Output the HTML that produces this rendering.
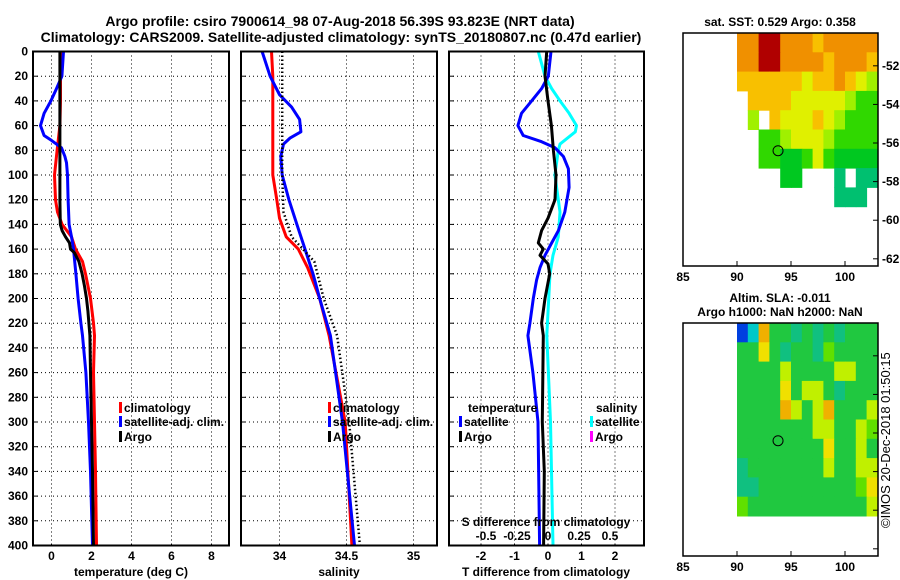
<!DOCTYPE html>
<html><head><meta charset="utf-8"><style>
html,body{margin:0;padding:0;background:#fff;}
svg{display:block;font-family:"Liberation Sans",Arial,sans-serif;font-weight:bold;}
</style></head><body>
<svg id="fig" width="900" height="580" viewBox="0 0 900 580" xmlns="http://www.w3.org/2000/svg">
<text x="340" y="26" font-size="14" text-anchor="middle">Argo profile: csiro 7900614_98 07-Aug-2018 56.39S 93.823E (NRT data)</text>
<text x="341" y="42" font-size="14" text-anchor="middle">Climatology: CARS2009. Satellite-adjusted climatology: synTS_20180807.nc (0.47d earlier)</text>
<g id="p1"></g>
<g id="p2"></g>
<g id="p3"></g>
<g id="m1"></g>
<g id="m2"></g>
<text x="780" y="26" font-size="12" text-anchor="middle">sat. SST: 0.529 Argo: 0.358</text>
<text x="780" y="302" font-size="12" text-anchor="middle">Altim. SLA: -0.011</text>
<text x="780" y="316" font-size="12" text-anchor="middle">Argo h1000: NaN h2000: NaN</text>
<text x="0" y="0" font-size="13" font-weight="normal" transform="translate(890,528) rotate(-90)">©IMOS 20-Dec-2018 01:50:15</text>
</svg>
<script>
// ---- data ----
const depthTicks=[0,20,40,60,80,100,120,140,160,180,200,220,240,260,280,300,320,340,360,380,400];
const climTdep=[0,20,40,60,80,100,120,130,140,150,160,170,180,200,220,230,260,300,340,400];
const climT=[0.53,0.45,0.45,0.42,0.28,0.15,0.2,0.3,0.53,1.0,1.2,1.55,1.7,1.95,2.1,2.15,2.1,2.15,2.2,2.25];
const argoTdep=[0,40,80,120,140,145,150,155,160,163,170,180,190,200,210,220,230,260,300,340,400];
const argoT=[0.42,0.42,0.42,0.42,0.44,0.53,0.7,0.9,0.95,1.15,1.37,1.53,1.65,1.75,1.82,1.87,1.92,1.95,2.0,2.05,2.1];
const satTdep=[0,20,30,40,50,60,68,72,78,85,90,100,120,140,150,160,180,200,220,230,260,300,340,400];
const satT=[0.6,0.52,0.25,-0.03,-0.37,-0.55,-0.37,0,0.5,0.67,0.75,0.8,0.83,0.88,1.0,1.1,1.22,1.33,1.47,1.55,1.72,1.85,1.95,2.05];
const tTicks=[0,2,4,6,8];
const climSdep=[0,20,60,100,120,135,150,160,175,200,230,300,400];
const climS=[33.94,33.95,33.95,33.95,33.98,34.0,34.05,34.14,34.21,34.30,34.37,34.49,34.54];
const satSdep=[0,20,35,45,55,65,70,75,85,100,120,140,160,180,200,230,300,400];
const satS=[33.87,33.93,34.0,34.09,34.15,34.16,34.08,34.03,34.01,34.02,34.07,34.13,34.19,34.25,34.30,34.38,34.47,34.56];
const argoSdep=[0,60,100,130,150,170,200,230,300,400];
const argoS=[34.02,34.02,34.02,34.03,34.09,34.26,34.33,34.43,34.52,34.6];
const sTicks=[34,34.5,35];
const dTdep=[0,20,30,40,50,60,68,73,78,85,95,110,130,145,155,165,175,185,200,220,230,260,300,400];
const dTsat=[0.09,0.01,-0.19,-0.49,-0.79,-0.9,-0.74,-0.19,0.21,0.46,0.61,0.63,0.5,0.31,0.11,-0.09,-0.24,-0.34,-0.44,-0.54,-0.6,-0.45,-0.3,-0.25];
const dTargoDep=[0,20,40,60,80,100,120,135,145,155,160,165,172,180,200,220,230,300,340,400];
const dTargo=[-0.04,-0.09,0,0.1,0.16,0.24,0.21,0,-0.19,-0.29,-0.14,-0.24,0,0.05,-0.09,-0.19,-0.14,-0.17,-0.11,-0.13];
const dSdep=[0,20,30,40,50,60,65,75,80,100,130,150,165,180,230,300,400];
const dSsat=[-0.078,-0.024,0.03,0.097,0.17,0.23,0.22,0.097,0.083,0.056,0.097,0.083,0.04,0.016,-0.01,0.02,0.04];
const dTTicks=[-2,-1,0,1,2];
const dSTicks=[-0.5,-0.25,0,0.25,0.5];
const dSTickLabels=['-0.5','-0.25','0','0.25','0.5'];
const lonTicks=[85,90,95,100];
const latTicks=[-52,-54,-56,-58,-60,-62];
const sstGrid=[
[7,7,9,9,7,7,7,6,7,7,7,7,7],
[7,7,9,9,7,7,7,7,6,7,7,7,6],
[6,6,6,6,6,6,5,6,6,7,6,5,4],
[0,6,6,6,6,5,5,5,5,5,4,3,3],
[0,4,0,6,5,5,5,6,5,4,3,3,3],
[0,0,3,3,4,5,5,5,4,3,3,3,3],
[0,0,3,3,2,2,3,5,3,2,2,2,2],
[0,0,0,0,2,2,0,0,0,1,0,1,1],
[0,0,0,0,0,0,0,0,0,1,1,1,0]];
const slaGrid=[
[0,1,7,3,3,2,3,2,3,2,3,3,3],
[3,3,6,3,2,3,3,2,4,3,3,3,3],
[3,3,3,3,5,3,3,3,3,5,5,3,3],
[3,3,3,3,6,3,5,5,3,2,3,3,3],
[3,3,3,3,7,5,3,5,7,3,3,3,5],
[3,3,3,3,3,3,3,5,5,3,3,5,4],
[3,3,3,3,3,3,3,3,6,3,3,5,3],
[2,3,3,3,3,3,3,3,5,3,3,5,5],
[2,2,3,3,3,3,3,3,3,3,3,4,6],
[4,3,3,3,3,3,3,3,3,3,3,3,5]];
const floatLon=93.8, floatLat=-56.4;
// ---- drawing ----
const NS='http://www.w3.org/2000/svg';
function mk(tag,parent,attrs){const e=document.createElementNS(NS,tag);for(const k in attrs)e.setAttribute(k,attrs[k]);parent.appendChild(e);return e;}
const Y0=51.5,YS=1.235;
const yD=d=>Y0+d*YS;
function panel(g,x0,x1,name){
  depthTicks.forEach(d=>{const l=mk('line',g,{x1:x0,x2:x1,y1:yD(d),y2:yD(d),stroke:'#000','stroke-width':1,'stroke-dasharray':'1,3'});
    
    
    const t=mk('line',g,{x1:x0,x2:x0+5,y1:yD(d),y2:yD(d),stroke:'#000','stroke-width':1});
    
    });
}
function frame(g,x0,x1,name){const r=mk('rect',g,{x:x0,y:51.5,width:x1-x0,height:494,fill:'none',stroke:'#000','stroke-width':2});
  
  }
function vgrid(g,xs,name){xs.forEach(x=>{const l=mk('line',g,{x1:x,x2:x,y1:51.5,y2:545.5,stroke:'#000','stroke-width':1,'stroke-dasharray':'1,3'});
  
  });}
function line(g,xs,ds,fx,col,name,dash){const p=xs.map((v,i)=>fx(v).toFixed(1)+','+yD(ds[i]).toFixed(1)).join(' ');
  const e=mk('polyline',g,{points:p,fill:'none',stroke:col,'stroke-width':dash?2.5:3,'stroke-linejoin':'round'});
  if(dash)e.setAttribute('stroke-dasharray',dash);
  
  }
function txt(g,x,y,s,fs,anchor,name,col){const t=mk('text',g,{x:x,y:y,'font-size':fs,'text-anchor':anchor||'start',fill:col||'#000'});t.textContent=s;
  
  return t;}
function legendItem(g,x,y,col,label,name){const b=mk('rect',g,{x:x,y:y-10,width:3,height:11,fill:col});
  
  
  const t=txt(g,x+5,y,label,12,'start',name+'-label');
  }
// panel 1
const p1=document.getElementById('p1');
const xT=t=>51.5+20*t;
panel(p1,33,229,'temp');vgrid(p1,tTicks.map(xT),'temp');
line(p1,climT,climTdep,xT,'#ff0000','temp-climatology-line');
line(p1,satT,satTdep,xT,'#0000ff','temp-satellite-line');
line(p1,argoT,argoTdep,xT,'#000000','temp-argo-line');
frame(p1,33,229,'temp');
depthTicks.forEach(d=>txt(p1,28,yD(d)+4,String(d),12,'end','depth-tick-label'));
tTicks.forEach(t=>txt(p1,xT(t),560,String(t),12,'middle','temp-tick-label'));
txt(p1,131,576,'temperature (deg C)',12,'middle','temp-axis-title');
const lg1=mk('g',p1,{});


legendItem(lg1,119,412,'#ff0000','climatology','legend-climatology');
legendItem(lg1,119,426,'#0000ff','satellite-adj. clim.','legend-satellite');
legendItem(lg1,119,441,'#000000','Argo','legend-argo');
// panel 2
const p2=document.getElementById('p2');
const xS=s=>279.5+134*(s-34);
panel(p2,241,437,'sal');vgrid(p2,sTicks.map(xS),'sal');
line(p2,climS,climSdep,xS,'#ff0000','sal-climatology-line');
line(p2,satS,satSdep,xS,'#0000ff','sal-satellite-line');
line(p2,argoS,argoSdep,xS,'#000000','sal-argo-line','1.5,2.5');
frame(p2,241,437,'sal');
sTicks.forEach(s=>txt(p2,xS(s),560,String(s),12,'middle','sal-tick-label'));
txt(p2,339,576,'salinity',12,'middle','sal-axis-title');
const lg2=mk('g',p2,{});


legendItem(lg2,328,412,'#ff0000','climatology','legend2-climatology');
legendItem(lg2,328,426,'#0000ff','satellite-adj. clim.','legend2-satellite');
legendItem(lg2,328,441,'#000000','Argo','legend2-argo');
// panel 3
const p3=document.getElementById('p3');
const xdT=t=>548+33.5*t, xdS=s=>548+124*s;
panel(p3,449,644,'diff');vgrid(p3,dTTicks.map(xdT),'diff');
line(p3,dSsat,dSdep,xdS,'#00ffff','diff-sal-satellite-line');
line(p3,dTsat,dTdep,xdT,'#0000ff','diff-temp-satellite-line');
line(p3,dTargo,dTargoDep,xdT,'#000000','diff-temp-argo-line');
frame(p3,449,644,'diff');
dTTicks.forEach(t=>txt(p3,xdT(t),560,String(t),12,'middle','diff-t-tick-label'));
dSTicks.forEach((s,i)=>txt(p3,xdS(s),540,dSTickLabels[i],12,'middle','diff-s-tick-label'));
txt(p3,546,526,'S difference from climatology',12,'middle','diff-s-axis-title');
txt(p3,546,576,'T difference from climatology',12,'middle','diff-t-axis-title');
txt(p3,468,412,'temperature',12,'start','legend3-temperature-heading');
txt(p3,596,412,'salinity',12,'start','legend3-salinity-heading');
legendItem(p3,459,426,'#0000ff','satellite','legend3-temp-satellite');
legendItem(p3,459,441,'#000000','Argo','legend3-temp-argo');
legendItem(p3,590,426,'#00ffff','satellite','legend3-sal-satellite');
legendItem(p3,590,441,'#ff00ff','Argo','legend3-sal-argo');
// maps
const MX0=683,MX1=878,LONS=10.8,LATS=19.3;
const xLon=l=>MX0+(l-85)*LONS;
const sstCols=['none','#00c070','#00c820','#30d800','#a0f000','#e0f000','#f8c000','#f09000','#e07000','#b00000'];
const slaCols=['#0040e0','#00c8c8','#10c080','#20c840','#60e000','#c0f000','#f0e000','#f0b000'];
function map(g,top,grid,cols,name,nullZero,latLabels){
  const yLat=l=>top+(-50.3-l)*LATS;
  grid.forEach((row,r)=>row.forEach((v,c)=>{
    if(nullZero&&v===0)return;
    const y0=yLat(-50.3-r), h=Math.min(LATS, top+233-y0);
    const cell=mk('rect',g,{x:xLon(90+c),y:y0,width:LONS+0.5,height:h+0.5,fill:cols[v]});
    
    
  }));
  const bx=mk('rect',g,{x:MX0,y:top,width:MX1-MX0,height:233,fill:'none',stroke:'#000','stroke-width':1.5});
  
  
  const ci=mk('circle',g,{cx:xLon(floatLon),cy:yLat(floatLat),r:5,fill:'none',stroke:'#000','stroke-width':1});
  
  
  latTicks.forEach(l=>{const tk=mk('line',g,{x1:MX1-5,x2:MX1,y1:yLat(l),y2:yLat(l),stroke:'#000'});
    
    
    if(latLabels)txt(g,882,yLat(l)+4,String(l),12,'start',name+'-lat-label');});
  lonTicks.forEach(l=>{const tk=mk('line',g,{x1:xLon(l),x2:xLon(l),y1:top+228,y2:top+233,stroke:'#000'});
    
    
    txt(g,xLon(l),top+248,String(l),12,'middle',name+'-lon-label');});
}
map(document.getElementById('m1'),33,sstGrid,sstCols,'sst-map',true,true);
map(document.getElementById('m2'),323,slaGrid,slaCols,'sla-map',false,false);
</script>
</body></html>
